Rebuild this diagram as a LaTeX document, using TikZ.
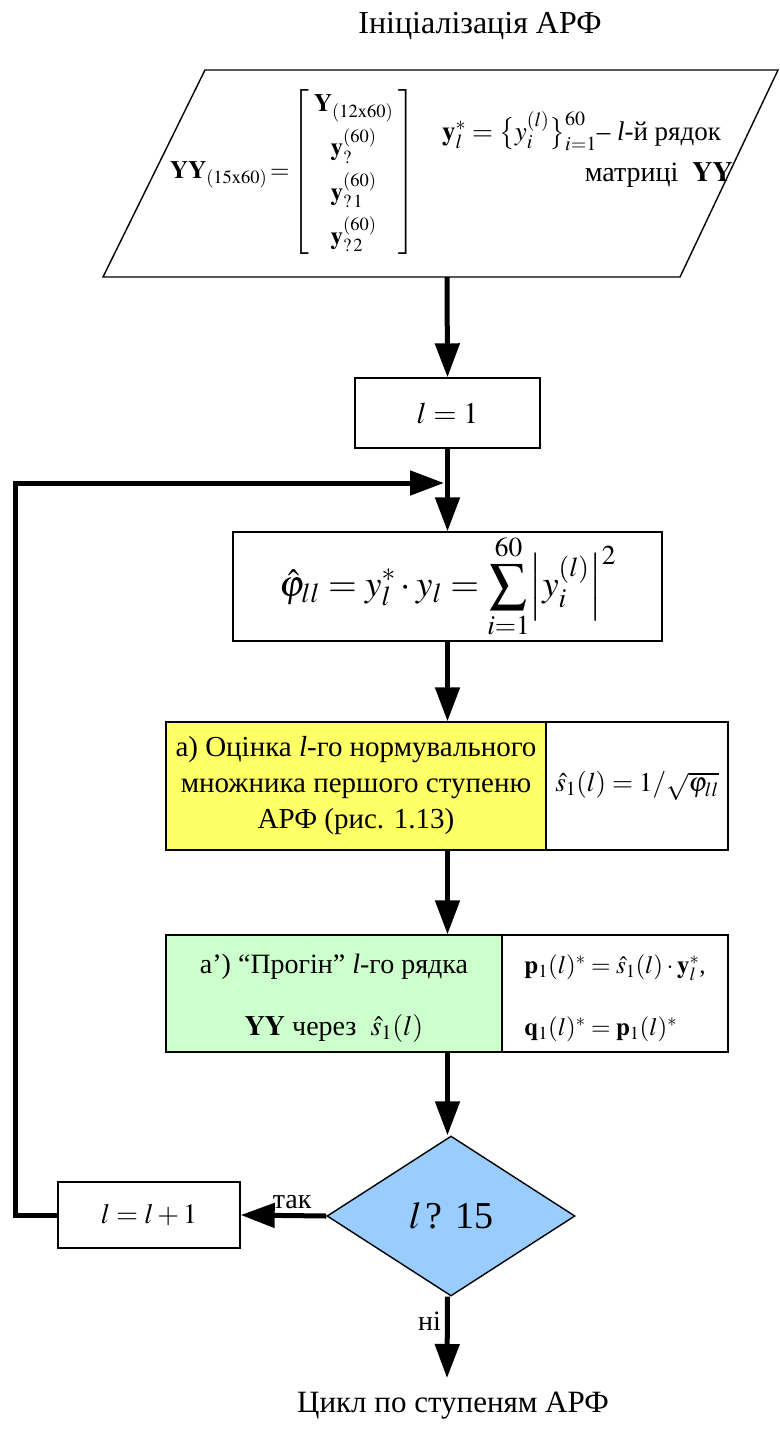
\documentclass[tikz,border=0pt]{standalone}
\usepackage{amsmath}
\usepackage{mathptmx}
\usepackage{fontspec}
\setmainfont{Liberation Serif}
\usetikzlibrary{arrows.meta,shapes.geometric}

\definecolor{boxyellow}{RGB}{255,255,102}
\definecolor{boxgreen}{RGB}{204,255,204}
\definecolor{boxblue}{RGB}{153,204,255}

% font size, and font size with a given baseline skip
\newcommand{\fs}[1]{\fontsize{#1}{1.2\dimexpr#1pt\relax}\selectfont}
\newcommand{\fsb}[2]{\fontsize{#1}{#2}\selectfont}

\begin{document}
\begin{tikzpicture}[x=1pt,y=-1pt,
  stepbox/.style={draw, line width=1.4pt, inner sep=0pt, align=center},
  conn/.style={line width=5pt, -{Triangle[length=34pt,width=24pt]}},
  lbl/.style={inner sep=0pt, font=\fs{28}}]
\useasboundingbox (0,0) rectangle (779,1429);

% title
\node[inner sep=0pt, font=\fs{32}] (title) at (480,26) {Ініціалізація АРФ};

% input parallelogram
\draw[line width=1.4pt] (205,70) -- (778,70) -- (680,277) -- (103,277) -- cycle;
\coordinate (inbot) at (447,277);
\node[inner sep=0pt, anchor=west, font=\fs{25}] (yymat) at (170,172)
  {$\mathbf{YY}_{\mathrm{(15x60)}}\!=\!\left[\begin{array}{c}
     \mathbf{Y}_{\mathrm{(12x60)}}\\[8pt]
     \mathbf{y}_{?}^{(60)}\\[8pt]
     \mathbf{y}_{?\,1}^{(60)}\\[8pt]
     \mathbf{y}_{?\,2}^{(60)}
   \end{array}\right]$};
\node[inner sep=0pt, anchor=west, font=\fs{27}] (rowdef) at (442,131)
  {$\mathbf{y}_l^{*}=\bigl\{y_i^{(l)}\bigr\}_{i=1}^{60}$– \textit{l}-й рядок};
\node[inner sep=0pt, anchor=east, font=\fs{28}] (rowdef2) at (733,175)
  {матриці \ $\mathbf{YY}$};

% l = 1
\node[stepbox, minimum width=185pt, minimum height=70pt, font=\fs{30}] (one) at (447.5,413)
  {$l=1$};

% phi estimate
\node[stepbox, minimum width=429pt, minimum height=109pt, font=\fs{37}] (phi) at (447.5,586.5)
  {$\displaystyle\hat{\varphi}_{ll}=y_l^{*}\cdot y_l=\sum_{i=1}^{60}\Bigl|y_i^{(l)}\Bigr|^2$};

% normalising factor
\node[stepbox, fill=boxyellow, minimum width=380pt, minimum height=128pt, font=\fsb{29}{36}] (norm) at (356,786)
  {а) Оцінка \textit{l}-го нормувального\\множника першого ступеню\\АРФ (рис. 1.13)};
\node[stepbox, minimum width=182pt, minimum height=128pt, font=\fs{27}] (normf) at (637,786)
  {$\hat{s}_1(l)=1/\sqrt{\varphi_{ll}}$};

% sweep: frames first, their two-line texts set on their own
\node[stepbox, fill=boxgreen, minimum width=336pt, minimum height=117pt] (sweep) at (334,993.5) {};
\node[stepbox, minimum width=226pt, minimum height=117pt] (sweepf) at (615,993.5) {};
\node[inner sep=0pt, align=center, font=\fsb{28}{62}] (sweeptxt) at (334,998)
  {а’) “Прогін” \textit{l}-го рядка\\$\mathbf{YY}$ через \ $\hat{s}_1(l)$};
\node[inner sep=0pt, align=left, font=\fsb{25}{62}] (sweepftxt) at (615,998)
  {$\mathbf{p}_1(l)^{*}=\hat{s}_1(l)\cdot\mathbf{y}_l^{*}$,\\$\mathbf{q}_1(l)^{*}=\mathbf{p}_1(l)^{*}$};

% loop test
\node[diamond, draw, line width=1.4pt, fill=boxblue, inner sep=0pt,
      minimum width=248pt, minimum height=160pt, font=\fs{38}] (test) at (451,1216)
  {$l\,$? 15};
\node[stepbox, minimum width=182pt, minimum height=66pt, font=\fs{28}] (inc) at (149,1215)
  {$l=l+1$};

% exit
\coordinate (exit) at (447,1378);
\node[inner sep=0pt, font=\fs{31}] (next) at (453,1406) {Цикл по ступеням АРФ};

% helper points of the return loop
\coordinate (c1) at (15,1215);
\coordinate (c2) at (15,483);
\coordinate (join) at (444,483);

% connectors
\draw[conn] (inbot) -- (one.north);
\draw[conn] (one.south) -- (phi.north);
\draw[conn] (phi.south) -- (norm.north -| one);
\draw[conn] (norm.south -| one) -- (sweep.north -| one);
\draw[conn] (sweep.south -| one) -- (test.north -| one);
\draw[conn] (test.west) -- (inc.east) node[pos=0.4, above=4pt, lbl] (yes) {так};
\draw[conn, line join=miter] (inc.west) -- (c1) -- (c2) -- (join);
\draw[conn] (test.south -| one) -- (exit) node[pos=0.3, left=4pt, lbl] (no) {ні};
\end{tikzpicture}
\end{document}
